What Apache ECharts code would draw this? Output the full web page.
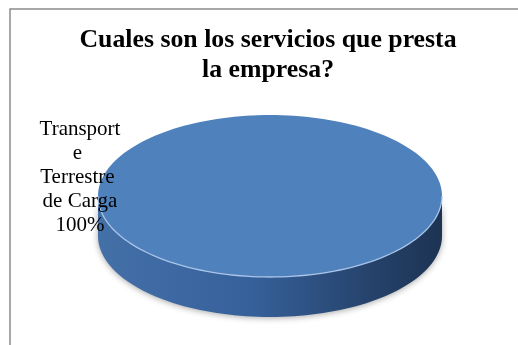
<!DOCTYPE html>
<html>
<head>
<meta charset="utf-8">
<script src="https://cdn.jsdelivr.net/npm/echarts@6/dist/echarts.min.js"></script>
<style>
  html, body { margin: 0; padding: 0; background: #ffffff; }
  #chart { width: 518px; height: 345px; }
</style>
</head>
<body>
<div id="chart"></div>
<script>
// Services offered by the company
const categories = ['Transporte Terrestre de Carga'];
const shares = [100];
const chartTitle = 'Cuales son los servicios que presta\nla empresa?';

// Pie disc geometry (pixels)
const CX = 270, CY = 196, RX = 172, RY = 81, DEPTH = 40;
const SEG = 180;

const total = shares.reduce((a, b) => a + b, 0);
const starts = [];
let acc = 0;
shares.forEach(v => { starts.push(acc); acc += v; });

function pt(a, dy) {
  return [CX + RX * Math.cos(a), CY + RY * Math.sin(a) + (dy || 0)];
}

function renderSlice(params, api) {
  const i = params.dataIndex;
  const v = api.value(0);
  // start at 12 o'clock, clockwise (screen y points down)
  const a0 = -Math.PI / 2 + (starts[i] / total) * Math.PI * 2;
  const a1 = a0 + (v / total) * Math.PI * 2;
  const full = v >= total;
  const children = [];

  // front side wall: the part of the arc facing the viewer (sin > 0)
  const sidePts = [];
  const sideTop = [];
  for (let k = 0; k <= SEG; k++) {
    const a = a0 + (a1 - a0) * k / SEG;
    if (Math.sin(a) >= -1e-9) sideTop.push(a);
  }
  if (sideTop.length > 1) {
    sideTop.forEach(a => sidePts.push(pt(a)));
    for (let k = sideTop.length - 1; k >= 0; k--) sidePts.push(pt(sideTop[k], DEPTH));
    children.push({
      type: 'polygon',
      shape: { points: sidePts },
      style: {
        fill: new echarts.graphic.LinearGradient(0, 0, 1, 0, [
          { offset: 0, color: '#4470a8' },
          { offset: 0.45, color: '#36609a' },
          { offset: 0.8, color: '#25426a' },
          { offset: 1, color: '#1d3352' }
        ]),
        shadowBlur: 6,
        shadowColor: 'rgba(0,0,0,0.35)',
        shadowOffsetY: 1
      }
    });
  }

  // top face
  const topPts = [];
  if (!full) topPts.push([CX, CY]);
  for (let k = 0; k <= SEG; k++) topPts.push(pt(a0 + (a1 - a0) * k / SEG));
  children.push({
    type: 'polygon',
    shape: { points: topPts },
    style: { fill: '#4f81bd' }
  });

  // light rim along the front edge of the top face
  const rim = sideTop.map(a => pt(a));
  if (rim.length > 1) {
    children.push({
      type: 'polyline',
      shape: { points: rim },
      style: { stroke: '#a9c4e8', lineWidth: 1.3, fill: null }
    });
  }

  // data label
  children.push({
    type: 'text',
    style: {
      text: categories[i] + '\n' + Math.round(v / total * 100) + '%',
      x: CX - RX - 18,
      y: CY - 19,
      width: 84,
      overflow: 'break',
      align: 'center',
      verticalAlign: 'middle',
      fontFamily: 'Liberation Serif',
      fontSize: 21,
      lineHeight: 24,
      fill: '#000000'
    }
  });

  return { type: 'group', children: children };
}

const chart = echarts.init(document.getElementById('chart'), null, { renderer: 'canvas' });
chart.setOption({
  backgroundColor: '#ffffff',
  animation: false,
  title: {
    text: chartTitle,
    left: 268,
    top: 25,
    padding: 0,
    textAlign: 'center',
    textStyle: {
      fontFamily: 'Liberation Serif',
      fontWeight: 'bold',
      fontSize: 25.8,
      lineHeight: 30,
      color: '#000000'
    }
  },
  graphic: [{
    type: 'rect',
    shape: { x: 10, y: 9, width: 600, height: 400 },
    style: { fill: null, stroke: '#8c8c8c', lineWidth: 1.5 },
    z: -1
  }],
  series: [{
    type: 'custom',
    coordinateSystem: 'none',
    renderItem: renderSlice,
    data: shares.map((v, i) => ({ name: categories[i], value: [v] }))
  }]
});
</script>
</body>
</html>
